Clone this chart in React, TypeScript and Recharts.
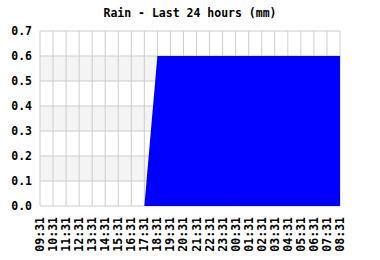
import React from 'react';
import { AreaChart, Area, XAxis, YAxis, CartesianGrid } from 'recharts';

const hours = [
  '09:31', '10:31', '11:31', '12:31', '13:31', '14:31', '15:31', '16:31',
  '17:31', '18:31', '19:31', '20:31', '21:31', '22:31', '23:31', '00:31',
  '01:31', '02:31', '03:31', '04:31', '05:31', '06:31', '07:31', '08:31',
];
const rain = [
  0, 0, 0, 0, 0, 0, 0, 0,
  0, 0.6, 0.6, 0.6, 0.6, 0.6, 0.6, 0.6,
  0.6, 0.6, 0.6, 0.6, 0.6, 0.6, 0.6, 0.6,
];
const yTicks = [0, 0.1, 0.2, 0.3, 0.4, 0.5, 0.6, 0.7];

const FONT = '"DejaVu Sans Mono", "Liberation Mono", monospace';

const data = hours.map((h, i) => ({ time: h, rain: rain[i] }));

const XTick = (props: any) => {
  const { x, y, payload } = props;
  return (
    <text
      x={x}
      y={y}
      dy={4}
      transform={`rotate(-90 ${x} ${y})`}
      textAnchor="end"
      fontFamily={FONT}
      fontWeight="bold"
      fontSize={11.5}
      fill="#000"
    >
      {payload.value}
    </text>
  );
};

export default function App() {
  return (
    <div style={{ position: 'absolute', left: 0, top: 0, width: 380, height: 260, background: '#fff' }}>
      <AreaChart
        width={380}
        height={260}
        data={data}
        margin={{ top: 31, right: 40, left: 0, bottom: 0 }}
      >
        <CartesianGrid
          stroke="#cccccc"
          horizontalFill={['#ffffff', '#f4f4f4']}
        />
        <XAxis
          dataKey="time"
          interval={0}
          height={54}
          tickLine={false}
          axisLine={false}
          tickSize={0}
          tickMargin={11}
          tick={<XTick />}
        />
        <YAxis
          width={40}
          domain={[0, 0.7]}
          ticks={yTicks}
          tickFormatter={(v: number) => v.toFixed(1)}
          tickLine={false}
          axisLine={false}
          tickSize={0}
          tickMargin={8}
          tick={{ fontFamily: FONT, fontWeight: 'bold', fontSize: 11.5, fill: '#000' }}
        />
        <Area
          type="linear"
          dataKey="rain"
          stroke="none"
          fill="#0000ff"
          fillOpacity={1}
          isAnimationActive={false}
        />
      </AreaChart>
      <div
        style={{
          position: 'absolute',
          top: 6,
          left: 0,
          width: 380,
          textAlign: 'center',
          fontFamily: FONT,
          fontWeight: 'bold',
          fontSize: 11.5,
          lineHeight: '14px',
          color: '#000',
        }}
      >
        Rain - Last 24 hours (mm)
      </div>
    </div>
  );
}
